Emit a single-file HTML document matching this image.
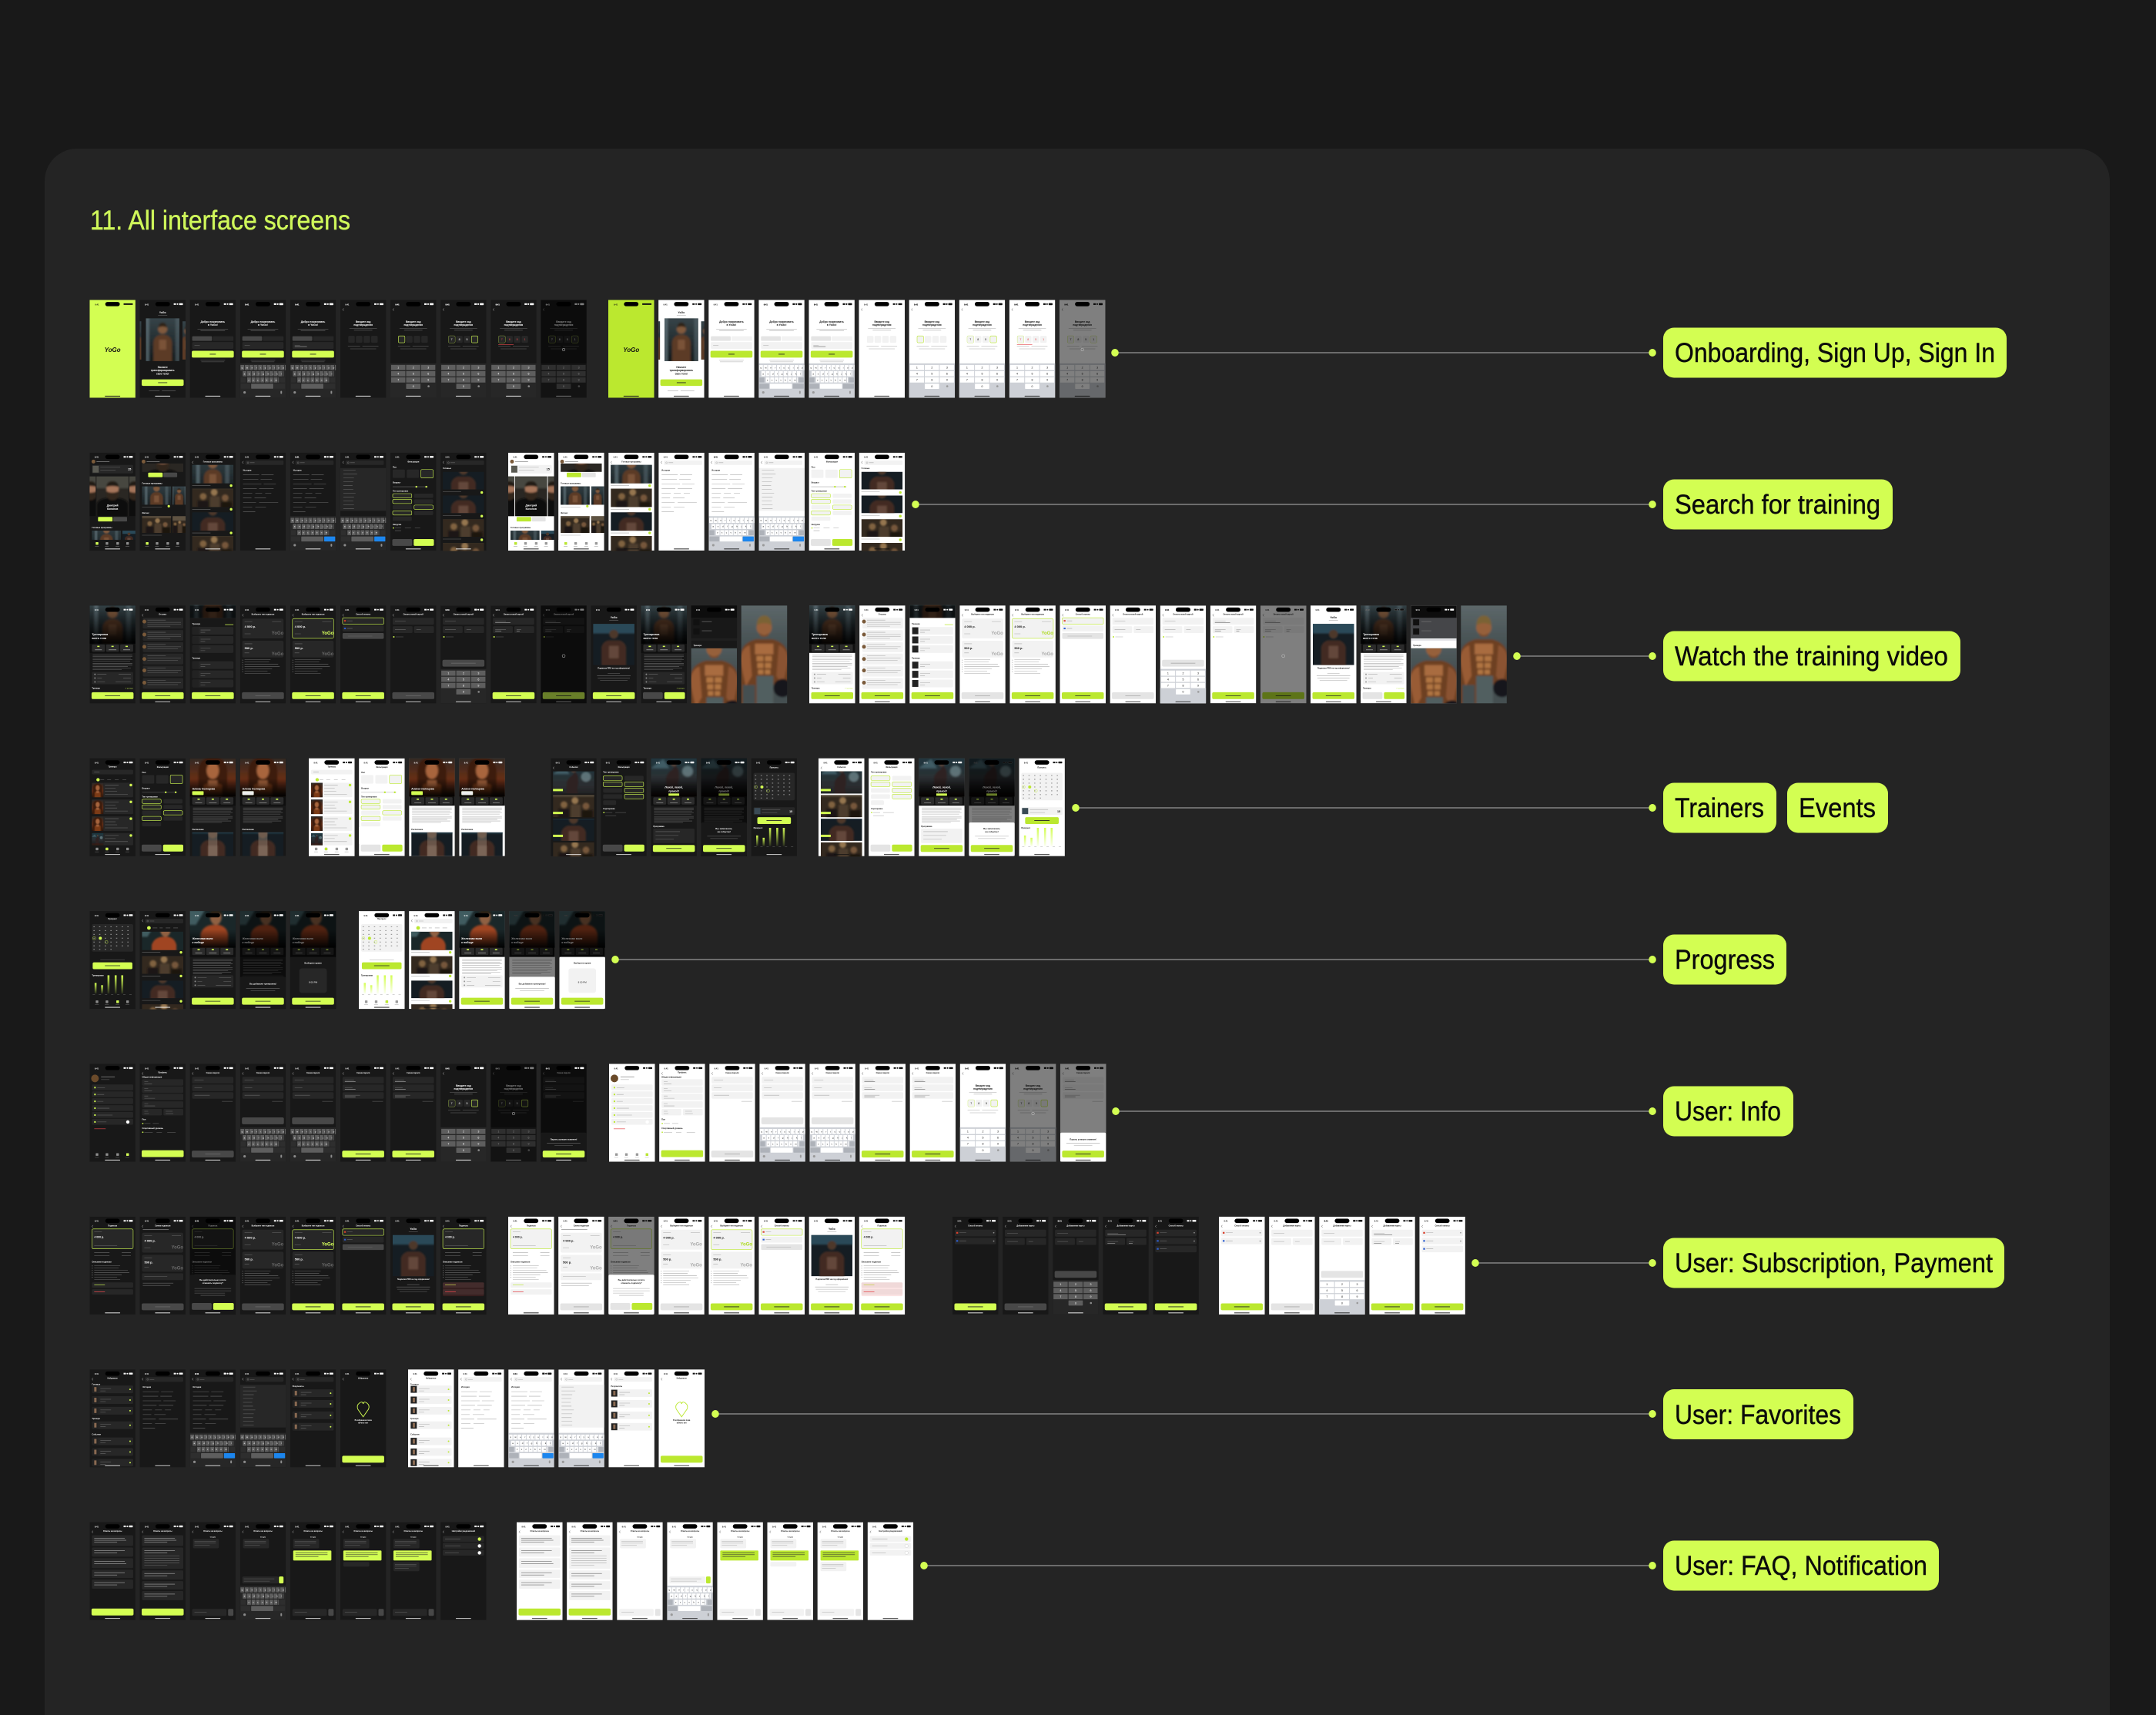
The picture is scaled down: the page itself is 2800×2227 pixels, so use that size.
<!DOCTYPE html>
<html lang="en"><head><meta charset="utf-8"><title>11. All interface screens</title>
<style>
html,body{margin:0;padding:0;background:#191919}
svg{display:block}
text{font-family:"Liberation Sans","Noto Sans CJK SC",sans-serif}
.d{--bg:#181818;--card:#272727;--fg:#fff;--mut:#8c8c8c;--ln:#6a6a6a;--acc:#d3fe52;--key:#5e5e5e;--kbg:#272727;--btn:#484848;--dk:#2e2e2e}
.l{--bg:#fff;--card:#f2f2f2;--fg:#111;--mut:#9a9a9a;--ln:#aaa;--acc:#bbe82f;--key:#fff;--kbg:#cdd0d6;--btn:#e4e4e4;--dk:#aeb2b9}
.b{fill:var(--bg)}.c{fill:var(--card)}.f{fill:var(--fg)}.m{fill:var(--mut)}.a{fill:var(--acc)}.kg{fill:var(--kbg)}.kf{fill:var(--key)}.g{fill:var(--btn)}.dk{fill:var(--dk)}
.bx{fill:var(--card);stroke:var(--acc);stroke-width:.6}
.p{fill:none;stroke:var(--ln);stroke-width:.55}
.pf{fill:none;stroke:var(--fg);stroke-width:.5;opacity:.75}
.ka{fill:none;stroke:var(--key);stroke-width:6.6;stroke-dasharray:4.9 .9}
.kn{fill:none;stroke:var(--key);stroke-width:6.8;stroke-dasharray:18.6 1}
.h{fill:var(--fg);font-size:3.4px;font-weight:700;text-anchor:middle}
.tt{fill:var(--fg);font-size:2.5px;font-weight:700;text-anchor:middle}
.s{fill:var(--fg);font-size:2.6px;font-weight:700}
.kt{fill:var(--fg);font-size:3px}
.dg{fill:var(--fg);font-size:3.6px;text-anchor:middle}
.w{fill:#fff;font-weight:700}
.lim{fill:#111;font-size:2.2px;font-weight:700;text-anchor:middle}
.dim{fill:#000;fill-opacity:.5}
</style></head><body>
<svg xmlns="http://www.w3.org/2000/svg" width="2800" height="2227" viewBox="0 0 2800 2227">
<defs>
<filter id="soft" x="-20%" y="-20%" width="140%" height="140%"><feGaussianBlur stdDeviation="1.3"/></filter>
<linearGradient id="gblue" x1="0" y1="0" x2="0" y2="1"><stop offset="0" stop-color="#3a484d"/><stop offset="1" stop-color="#0f1517"/></linearGradient>
<linearGradient id="gbig" x1="0" y1="0" x2="0" y2="1"><stop offset="0" stop-color="#5f6a6c"/><stop offset=".6" stop-color="#3b4547"/><stop offset="1" stop-color="#15191a"/></linearGradient>
<linearGradient id="gor" x1="0" y1="0" x2="0" y2="1"><stop offset="0" stop-color="#1d272b"/><stop offset=".55" stop-color="#6a2f14"/><stop offset="1" stop-color="#17100d"/></linearGradient>
<linearGradient id="gev" x1="0" y1="0" x2="0" y2="1"><stop offset="0" stop-color="#1b3a44"/><stop offset=".55" stop-color="#2c2e31"/><stop offset="1" stop-color="#141414"/></linearGradient>
<linearGradient id="gfade" x1="0" y1="0" x2="0" y2="1"><stop offset="0" stop-color="#000" stop-opacity="0"/><stop offset="1" stop-color="#000" stop-opacity=".95"/></linearGradient>
<linearGradient id="gbar" x1="0" y1="0" x2="0" y2="1"><stop offset="0" stop-color="#d3fe52"/><stop offset="1" stop-color="#d3fe52" stop-opacity=".08"/></linearGradient>

<symbol id="ph1" viewBox="0 0 60 60" preserveAspectRatio="xMidYMid slice"><rect width="60" height="60" fill="#1b2326"/><g filter="url(#soft)"><rect x="-6" y="-6" width="72" height="72" fill="url(#gblue)"/><rect x="6" y="-6" width="5" height="72" fill="#62757c" opacity=".7"/><rect x="48" y="-6" width="6" height="72" fill="#55656c" opacity=".6"/><path d="M17 66V34q1-9 10-11h6q9 2 10 11V66z" fill="#5b3b28"/><circle cx="30" cy="15" r="6.5" fill="#805a3c"/><path d="M24 13q1-7 6-7t6 7q-6-3-12 0z" fill="#2e2218"/><path d="M25 30h10v14H25z" fill="#7a5237"/></g></symbol>
<symbol id="ph2" viewBox="0 0 60 128" preserveAspectRatio="xMidYMid slice"><rect width="60" height="128" fill="#2a3133"/><g filter="url(#soft)"><rect x="-6" y="-6" width="72" height="140" fill="url(#gbig)"/><path d="M-2 134V66q3-18 22-22h20q19 4 22 22V134z" fill="#6d3f24"/><path d="M-2 70q4-16 13-18l3 40-8 14z" fill="#995c34"/><path d="M62 70q-4-16-13-18l-3 40 8 14z" fill="#8a5230"/><path d="M18 50h24v14H18z" fill="#a96c40"/><path d="M20 66h9v7h-9zM31 66h9v7h-9zM21 75h8v7h-8zM31 75h8v7h-8zM22 84h7v6h-7zM31 84h7v6h-7z" fill="#b07543"/><path d="M20 92h22v42H20z" fill="#515e60"/><path d="M2 104h16v30H2zM42 104h20v30H42z" fill="#454f51"/><circle cx="30" cy="29" r="10" fill="#96603a"/><path d="M20 26q1-13 10-13t10 13q-10-6-20 0z" fill="#7a6236"/><path d="M24 36q6 5 12 0v3q-6 4-12 0z" fill="#7a4c2c"/><circle cx="54" cy="108" r="12" fill="#16191a"/></g></symbol>
<symbol id="ph3" viewBox="0 0 60 60" preserveAspectRatio="xMidYMid slice"><rect width="60" height="60" fill="#151d23"/><g filter="url(#soft)"><rect x="-6" y="-6" width="72" height="20" fill="#2a4858"/><path d="M12 66V34q2-8 10-10h16q8 2 10 10V66z" fill="#432c21"/><path d="M23 32h14v18H23z" fill="#64463a"/><circle cx="30" cy="15" r="6.5" fill="#4d382b"/></g></symbol>
<symbol id="ph4" viewBox="0 0 60 60" preserveAspectRatio="xMidYMid slice"><rect width="60" height="60" fill="#1e1a18"/><g filter="url(#soft)"><rect x="-6" y="-6" width="72" height="72" fill="url(#gor)"/><path d="M11 66V22q1-19 19-19t19 19V66z" fill="#3e1f10"/><ellipse cx="30" cy="21" rx="8" ry="11" fill="#a8653d"/><path d="M18 66V40q12-6 24 0V66z" fill="#7c3a17"/><path d="M24 34h12v8H24z" fill="#a8653d"/></g></symbol>
<symbol id="ph5" viewBox="0 0 60 60" preserveAspectRatio="xMidYMid slice"><rect width="60" height="60" fill="#2a2723"/><g filter="url(#soft)"><rect x="-6" y="-6" width="72" height="24" fill="#47473f"/><path d="M6 66V42q2-7 13-9h22q11 2 13 9V66z" fill="#0e0e0e"/><ellipse cx="30" cy="20" rx="9.5" ry="13" fill="#a5755a"/><path d="M20.5 22q0 14 9.5 14t9.5-14q-9.5 5-19 0z" fill="#33251b"/><path d="M20.5 16q1-9 9.5-9t9.5 9q-9.5-3-19 0z" fill="#241a14"/></g></symbol>
<symbol id="ph6" viewBox="0 0 60 60" preserveAspectRatio="xMidYMid slice"><rect width="60" height="60" fill="#161a1c"/><g filter="url(#soft)"><rect x="-6" y="-6" width="72" height="72" fill="url(#gev)"/><circle cx="48" cy="22" r="7" fill="#8ba7ad" opacity=".55"/><path d="M0 18L16 6l8 12z" fill="#3f5c65"/><path d="M20 66V30q3-8 8-10l4-6 4 6q2 10-1 18l5 28z" fill="#2e2220"/><path d="M0 50h60v16H0z" fill="#3a1c16" opacity=".6"/><circle cx="30" cy="12" r="3.5" fill="#5a4438"/></g></symbol>
<symbol id="ph7" viewBox="0 0 60 60" preserveAspectRatio="xMidYMid slice"><rect width="60" height="60" fill="#1a2729"/><g filter="url(#soft)"><path d="M-6-6h32L8 24H-6z" fill="#415c60"/><path d="M14 66V36q3-10 14-12h10q10 2 12 12V66z" fill="#a04520"/><ellipse cx="34" cy="14" rx="7.5" ry="10" fill="#8f6043"/><path d="M26 11q1-8 8-8t8 8q-8-2-16 0z" fill="#2c2016"/></g></symbol>
<symbol id="ph8" viewBox="0 0 60 60" preserveAspectRatio="xMidYMid slice"><rect width="60" height="60" fill="#33291f"/><g filter="url(#soft)"><rect x="-6" y="-6" width="72" height="22" fill="#5e5343"/><circle cx="16" cy="28" r="5" fill="#80623f"/><circle cx="32" cy="22" r="5" fill="#957650"/><circle cx="48" cy="30" r="5" fill="#76563a"/><rect x="8" y="34" width="16" height="32" fill="#1f1812"/><rect x="26" y="28" width="14" height="38" fill="#4e3d2e"/><rect x="42" y="36" width="16" height="30" fill="#1a1410"/></g></symbol>

<g id="st"><text class="s" x="6.5" y="6.8">9:41</text><rect x="20.5" y="2.6" width="19" height="5.6" rx="2.8" fill="#000"/><rect class="f" x="44.5" y="4.4" width="3" height="2"/><circle class="f" cx="49.4" cy="5.4" r="1"/><rect class="f" x="51.5" y="4.2" width="5" height="2.4" rx=".6"/><rect class="f" x="20" y="125.4" width="20" height="1.1" rx=".5" opacity=".8"/></g>
<g id="stw"><text class="w" font-size="2.6" x="6.5" y="6.8">9:41</text><rect x="20.5" y="2.6" width="19" height="5.6" rx="2.8" fill="#000"/><rect fill="#fff" x="44.5" y="4.4" width="3" height="2"/><circle fill="#fff" cx="49.4" cy="5.4" r="1"/><rect fill="#fff" x="51.5" y="4.2" width="5" height="2.4" rx=".6"/></g>
<g id="bk"><path class="pf" d="M4.5 11l-1.4 1.6 1.4 1.6"/></g>
<g id="kb"><rect class="kg" y="83" width="60" height="45"/><path class="ka" d="M.6 88.5H60"/><path class="ka" d="M3.6 96.6H57"/><path class="ka" d="M9.4 104.7H51"/><rect class="dk" x="1" y="101.4" width="6.4" height="6.6" rx=".7"/><rect class="dk" x="52.6" y="101.4" width="6.4" height="6.6" rx=".7"/><rect class="dk" x="1" y="109.6" width="12.6" height="6.6" rx=".7"/><rect class="kf" x="14.6" y="109.6" width="29" height="6.6" rx=".7"/><rect class="dk" x="44.6" y="109.6" width="14.4" height="6.6" rx=".7"/><text class="kt" x="2" y="89.5" textLength="56">qwertyuiop</text><text class="kt" x="5" y="97.6" textLength="50">asdfghjkl</text><text class="kt" x="10.8" y="105.7" textLength="38">zxcvbnm</text><circle class="m" cx="6" cy="121" r="1.6"/><rect class="m" x="53" y="119" width="2" height="4" rx="1"/></g>
<g id="kbs"><use href="#kb"/><rect x="44.6" y="109.6" width="14.4" height="6.6" rx=".7" fill="#1c86ee"/></g>
<g id="np"><rect class="kg" y="83" width="60" height="45"/><path class="kn" d="M1 88.5H59"/><path class="kn" d="M1 96.6H59"/><path class="kn" d="M1 104.7H59"/><rect class="kf" x="20.6" y="109.6" width="18.8" height="6.8" rx=".7"/><text class="dg" x="10.3" y="89.8">1</text><text class="dg" x="30" y="89.8">2</text><text class="dg" x="49.7" y="89.8">3</text><text class="dg" x="10.3" y="97.9">4</text><text class="dg" x="30" y="97.9">5</text><text class="dg" x="49.7" y="97.9">6</text><text class="dg" x="10.3" y="106">7</text><text class="dg" x="30" y="106">8</text><text class="dg" x="49.7" y="106">9</text><text class="dg" x="30" y="114.3">0</text><circle class="m" cx="50" cy="113" r="1.3"/></g>
<g id="tab"><rect class="b" y="114" width="60" height="14"/><rect class="m" x="8" y="117" width="3.4" height="3.4" rx=".6"/><rect class="m" x="21" y="117" width="3.4" height="3.4" rx=".6"/><rect class="m" x="35" y="117" width="3.4" height="3.4" rx=".6"/><rect class="m" x="48" y="117" width="3.4" height="3.4" rx=".6"/><path class="p" d="M7 122.4h5M20 122.4h5M34 122.4h5M47 122.4h5"/></g>
<g id="btn"><rect class="a" x="2.5" y="113.5" width="55" height="9" rx="2"/><path d="M20 118h20" stroke="#222" stroke-width=".8"/></g>
<g id="btnd"><rect class="g" x="2.5" y="113.5" width="55" height="9" rx="2"/><path d="M20 118h20" stroke="var(--ln)" stroke-width=".8"/></g>
<g id="srch"><use href="#bk"/><rect class="c" x="7" y="10" width="50" height="6" rx="1.5"/><circle cx="10.4" cy="13" r="1" fill="none" stroke="var(--mut)" stroke-width=".4"/><path class="p" d="M13 13h6"/></g>
<g id="chips"><text class="s" x="4" y="24">История</text><path class="p" d="M4 29h21M28 29h16M4 35h20M27 35h15M4 41h24M31 41h16M4 47h18M25 47h19M4 53h12M20 53h9M33 53h8M4 59h11M19 59h15M4 65h17M25 65h25M4 71h12M20 71h14M4 77h16"/></g>
<g id="tiles"><rect fill="#2b2b2b" x="3" y="51" width="17" height="9.5" rx="1.2"/><rect fill="#2b2b2b" x="21.5" y="51" width="17" height="9.5" rx="1.2"/><rect fill="#2b2b2b" x="40" y="51" width="17" height="9.5" rx="1.2"/><path d="M10 53.5h3M28.5 53.5h3M47 53.5h3" stroke="#d3fe52" stroke-width="1.6"/><path d="M7 58h9M25 58h10M44 58h9" stroke="#bbb" stroke-width=".6"/></g>
<g id="para"><path class="p" d="M4 65h52M4 67h52M4 69h50M4 71h52M4 73h49M4 76h52M4 78h52M4 80h46M4 82h50M4 84h38"/></g>
<g id="rows"><rect class="c" x="3" y="87" width="54" height="16" rx="1.6"/><circle class="m" cx="7" cy="90" r="1"/><circle class="m" cx="7" cy="95" r="1"/><circle class="m" cx="7" cy="100" r="1"/><path class="p" d="M10 90h12M38 90h16M10 95h6M44 95h10M10 100h10M34 100h20"/></g>
<g id="cardd"><rect class="c" x="3" y="17" width="54" height="26" rx="2"/><rect class="c" x="3" y="46" width="54" height="22" rx="2"/><path class="p" d="M6 21h10M42 21h12M6 37h8M6 50h10M6 62h6"/><text class="s" font-size="4" x="6" y="29" style="font-size:4px">4 000 р.</text><text class="s" x="6" y="57" style="font-size:4px">500 р.</text><text x="57" y="38" text-anchor="end" font-size="6" font-weight="700" fill="var(--ln)">YoGo</text><text x="57" y="65" text-anchor="end" font-size="6" font-weight="700" fill="var(--ln)">YoGo</text></g>
<g id="bul"><path class="p" d="M6 71h34M6 74h32M6 77h44M6 80h46M6 83h36M6 86h30M6 89h34"/><path d="M3.5 71v18" stroke="var(--mut)" stroke-width=".9" stroke-dasharray=".9 2.1"/></g>
<g id="cal"><text class="tt" x="30" y="13">Прогресс</text><rect class="c" x="3" y="19" width="54" height="36" rx="2"/><path d="M5 22.5h50M5 27.5h50M5 32.5h50M5 37.5h50M5 42.5h50M5 47.5h50M5 52h24" fill="none" stroke="var(--mut)" stroke-width="1.2" stroke-dasharray="1.6 5.8"/><circle class="a" cx="14" cy="37.5" r="2"/><circle cx="6" cy="37.5" r="2" fill="none" stroke="var(--acc)" stroke-width=".4"/><circle cx="22" cy="42.5" r="2" fill="none" stroke="var(--acc)" stroke-width=".4"/></g>
<g id="bars"><rect fill="url(#gbar)" x="6.5" y="92" width="2.6" height="14"/><rect fill="url(#gbar)" x="15" y="95" width="2.6" height="11"/><rect fill="url(#gbar)" x="23.4" y="82" width="2.6" height="24"/><rect fill="url(#gbar)" x="32.8" y="82" width="2.6" height="24"/><rect fill="url(#gbar)" x="41.4" y="82" width="2.6" height="24"/><path class="p" d="M4 107h52" stroke-dasharray="3 5"/></g>
<g id="fieldh"><text class="tt" x="30" y="12.5">Смена пароля</text><use href="#bk"/></g>
<g id="pwf"><rect class="c" x="3" y="17" width="54" height="8.6" rx="1.6"/><rect class="c" x="3" y="27" width="54" height="8.6" rx="1.6"/><rect class="c" x="3" y="37" width="54" height="8.6" rx="1.6"/><path class="p" d="M6 21h12M6 31h10M6 41h20M42 49h14"/></g>
<g id="faqh"><text class="tt" x="30" y="12.5">Ответы на вопросы</text><use href="#bk"/></g>
<g id="cbub"><text class="tt" x="30" y="20" style="font-size:1.8px">Сегодня</text><rect class="c" x="4" y="22" width="34" height="12" rx="1.4"/><path class="p" d="M6 25h28M6 27.4h28M6 29.8h20"/></g>
<g id="cin"><rect class="c" x="3" y="113.5" width="45" height="9" rx="1.6"/><rect class="g" x="50" y="113.5" width="7" height="9" rx="1.6"/><path class="p" d="M6 118h16"/></g>
<g id="lbub"><rect class="a" x="4" y="37" width="50" height="13" rx="1"/><path d="M7 40h42M7 42.4h42M7 44.8h30" stroke="#333" stroke-width=".6"/></g>
<g id="fav1"><rect class="c" x="3" y="14" width="54" height="10" rx="1.4"/><rect x="3.4" y="14.5" width="8" height="9" fill="#222"/><rect x="6" y="16" width="3" height="6" fill="#8a6a52"/><path class="p" d="M14 18h14M14 21h7"/><circle class="a" cx="53" cy="19" r="1"/></g>
</defs>

<!-- ROW 1 SCREENS -->
<symbol id="splash" viewBox="0 0 60 128"><rect class="a" width="60" height="128"/><text x="7" y="7" font-size="2.6" font-weight="700" fill="#111">9:41</text><rect x="20.5" y="2.6" width="19" height="5.6" rx="2.8" fill="#000"/><rect x="44.5" y="4.4" width="12" height="2" fill="#111"/><text x="30" y="68" text-anchor="middle" font-size="8" font-weight="700" font-style="italic" fill="#111">YoGo</text><rect x="20" y="125.4" width="20" height="1.1" fill="#222"/></symbol>
<symbol id="start" viewBox="0 0 60 128"><rect class="b" width="60" height="128"/><text class="h" x="30" y="17.5">YoGo</text><path class="p" d="M24 20h12"/><use href="#ph1" x="-14" y="28" width="16" height="50"/><use href="#ph1" x="8" y="24" width="44" height="56"/><use href="#ph1" x="56" y="28" width="16" height="50"/><text class="h" x="30" y="89" style="font-size:3.2px">Начните</text><text class="h" x="30" y="93.4" style="font-size:3.2px">трансформировать</text><text class="h" x="30" y="97.8" style="font-size:3.2px">свое тело!</text><rect class="a" x="2.5" y="104" width="55" height="8.5" rx="1.8"/><path d="M24 108.3h12" stroke="#222" stroke-width=".8"/><path class="p" d="M12 119h14M29 119h18"/><use href="#st"/></symbol>
<symbol id="w0" viewBox="0 0 60 128"><rect class="b" width="60" height="128"/><text class="h" x="30" y="29.5">Добро пожаловать</text><text class="h" x="30" y="34">в YoGo!</text><path class="p" d="M10 38h40M14 40h32"/><rect class="g" x="3" y="47.5" width="26" height="6" rx="1"/><rect class="c" x="30" y="47.5" width="27" height="6" rx="1"/><rect class="c" x="3" y="55" width="54" height="9" rx="1.5"/><path class="p" d="M6 59.5h7"/><rect class="a" x="2.5" y="66.5" width="55" height="9" rx="1.8"/><path d="M26 71h8" stroke="#222" stroke-width=".8"/><path class="p" d="M14 79h32M15 81h30"/><use href="#st"/></symbol>
<symbol id="w1" viewBox="0 0 60 128"><use href="#w0" width="60" height="128"/><use href="#kb"/><use href="#st"/></symbol>
<symbol id="w2" viewBox="0 0 60 128"><use href="#w1" width="60" height="128"/><path class="pf" d="M6 61h16"/></symbol>
<symbol id="c0" viewBox="0 0 60 128"><rect class="b" width="60" height="128"/><use href="#bk"/><text class="h" x="30" y="29.5" style="font-size:3.2px">Введите код</text><text class="h" x="30" y="34" style="font-size:3.2px">подтверждения</text><path class="p" d="M12 37.5h36M18 39.6h24"/><g class="c"><rect x="10.5" y="47" width="8.5" height="9" rx="1.6"/><rect x="20.5" y="47" width="8.5" height="9" rx="1.6"/><rect x="30.5" y="47" width="8.5" height="9" rx="1.6"/><rect x="40.5" y="47" width="8.5" height="9" rx="1.6"/></g><path class="p" d="M10 60.5h16M29 60.5h21M13 64h34"/><use href="#st"/></symbol>
<symbol id="c1" viewBox="0 0 60 128"><use href="#c0" width="60" height="128"/><rect class="bx" x="10.5" y="47" width="8.5" height="9" rx="1.6"/><use href="#np"/><use href="#st"/></symbol>
<symbol id="c2" viewBox="0 0 60 128"><use href="#c1" width="60" height="128"/><rect class="c" x="10.5" y="47" width="8.5" height="9" rx="1.6"/><rect class="bx" x="40.5" y="47" width="8.5" height="9" rx="1.6"/><text class="dg" x="14.7" y="53">7</text><text class="dg" x="24.7" y="53">8</text><text class="dg" x="34.7" y="53">5</text></symbol>
<symbol id="c3" viewBox="0 0 60 128"><use href="#c1" width="60" height="128"/><rect class="c" x="10.5" y="47" width="8.5" height="9" rx="1.6"/><g fill="#e5484d" font-size="3.6" text-anchor="middle"><text x="14.7" y="53">7</text><text x="24.7" y="53">8</text><text x="34.7" y="53">5</text><text x="44.7" y="53">1</text></g><path d="M10 58.5h20" stroke="#e5484d" stroke-width=".6"/></symbol>
<symbol id="c4" viewBox="0 0 60 128"><use href="#c2" width="60" height="128"/><rect class="c" x="40.5" y="47" width="8.5" height="9" rx="1.6"/><text class="dg" x="44.7" y="53">1</text><rect class="dim" width="60" height="128"/><circle cx="30" cy="65" r="1.8" fill="none" stroke="#ccc" stroke-width=".5"/></symbol>

<!-- ROW 2 -->
<symbol id="home" viewBox="0 0 60 128"><rect class="b" width="60" height="128"/><circle cx="5" cy="11.5" r="2.5" fill="#7a5a3a"/><path class="pf" d="M9 11.5h17"/><rect class="c" x="3" y="16" width="54" height="11" rx="1.6"/><rect x="4" y="17" width="8" height="9" fill="#5a5a52"/><path class="p" d="M14 19h26M14 23h20"/><text class="s" x="50" y="23" style="font-size:4px">15</text><use href="#ph5" x="-6" y="31" width="14" height="52"/><use href="#ph5" x="9" y="31" width="42" height="52"/><use href="#ph5" x="52" y="31" width="14" height="52"/><text class="w" font-size="3.4" text-anchor="middle" x="30" y="70">Дмитрий</text><text class="w" font-size="3.4" text-anchor="middle" x="30" y="74.5">Кононов</text><rect class="a" x="11" y="84" width="19" height="6" rx="1"/><rect class="g" x="31" y="84" width="18" height="6" rx="1"/><text class="s" x="3" y="99">Готовые программы</text><use href="#ph1" x="3" y="102" width="38" height="18"/><use href="#ph3" x="43" y="102" width="17" height="18"/><use href="#tab"/><rect class="a" x="8" y="117" width="3.4" height="3.4" rx=".6"/><use href="#st"/></symbol>
<symbol id="home2" viewBox="0 0 60 128"><rect class="b" width="60" height="128"/><use href="#ph5" x="3" y="14" width="54" height="11"/><rect x="0" y="0" width="60" height="10" class="b"/><circle cx="5" cy="11.5" r="2.5" fill="#7a5a3a"/><path class="pf" d="M9 11.5h17"/><rect class="a" x="11" y="26" width="19" height="6" rx="1"/><rect class="g" x="31" y="26" width="18" height="6" rx="1"/><text class="s" x="3" y="41">Готовые программы</text><use href="#ph1" x="3" y="44" width="38" height="24"/><use href="#ph1" x="43" y="44" width="17" height="24"/><path class="p" d="M3 71h26"/><circle class="a" cx="38" cy="70" r="1.6"/><text class="s" x="3" y="79.5">Фитнес</text><use href="#ph8" x="3" y="83" width="38" height="22"/><use href="#ph8" x="43" y="83" width="17" height="22"/><path class="p" d="M3 108h26"/><use href="#tab"/><rect class="a" x="8" y="117" width="3.4" height="3.4" rx=".6"/><use href="#st"/></symbol>
<symbol id="prog" viewBox="0 0 60 128"><rect class="b" width="60" height="128"/><use href="#bk"/><text class="tt" x="30" y="12.5">Готовые программы</text><use href="#ph1" x="3" y="16" width="54" height="24"/><path class="p" d="M3 43h24"/><circle class="a" cx="54" cy="43" r="1.7"/><use href="#ph8" x="3" y="47" width="54" height="24"/><path class="p" d="M3 74h24"/><circle class="a" cx="54" cy="74" r="1.7"/><use href="#ph3" x="3" y="78" width="54" height="24"/><path class="p" d="M3 105h24"/><circle class="a" cx="54" cy="105" r="1.7"/><use href="#ph8" x="3" y="109" width="54" height="24"/><use href="#st"/></symbol>
<symbol id="s0" viewBox="0 0 60 128"><rect class="b" width="60" height="128"/><use href="#srch"/><use href="#chips"/><use href="#st"/></symbol>
<symbol id="s1" viewBox="0 0 60 128"><use href="#s0" width="60" height="128"/><use href="#kbs"/><use href="#st"/></symbol>
<symbol id="s2" viewBox="0 0 60 128"><rect class="b" width="60" height="128"/><use href="#srch"/><rect class="c" y="20" width="60" height="56"/><path class="p" d="M4 23h16M4 28h18M4 33h14M4 38h13M4 43h12M4 48h13M4 53h16M4 58h14M4 63h13M4 68h14M4 73h14"/><use href="#kbs"/><use href="#st"/></symbol>
<symbol id="filt" viewBox="0 0 60 128"><rect class="b" width="60" height="128"/><text class="tt" x="30" y="12.5">Фильтрация</text><text class="s" x="3" y="19.5">Пол</text><g class="c"><rect x="3" y="22" width="16" height="11" rx="1.4"/><rect x="21.5" y="22" width="16" height="11" rx="1.4"/></g><rect class="bx" x="40" y="22" width="16" height="11" rx="1.4"/><text class="s" x="3" y="40">Возраст</text><path class="p" d="M3 44.5h46"/><circle class="a" cx="34" cy="44.5" r="1.2"/><circle class="a" cx="47" cy="44.5" r="1.2"/><text class="s" x="3" y="51">Тип тренировки</text><rect class="bx" x="3" y="53.5" width="25" height="5.6" rx="1.6"/><rect class="c" x="31" y="53.5" width="25" height="5.6" rx="1.6"/><rect class="bx" x="3" y="61" width="25" height="5.6" rx="1.6"/><rect class="c" x="31" y="61" width="25" height="5.6" rx="1.6"/><rect class="c" x="3" y="68.5" width="25" height="5.6" rx="1.6"/><rect class="bx" x="31" y="68.5" width="25" height="5.6" rx="1.6"/><rect class="bx" x="3" y="76" width="25" height="5.6" rx="1.6"/><rect class="c" x="31" y="76" width="25" height="5.6" rx="1.6"/><rect class="c" x="3" y="83.5" width="25" height="5.6" rx="1.6"/><text class="s" x="3" y="95">Нагрузка</text><circle class="a" cx="4" cy="98.5" r=".9"/><path class="p" d="M6 98.5h8M19 98.5h8M32 98.5h7M6 102h8"/><rect class="g" x="2.5" y="113" width="26" height="9" rx="1.8"/><rect class="a" x="30.5" y="113" width="26.5" height="9" rx="1.8"/><use href="#st"/></symbol>
<symbol id="res" viewBox="0 0 60 128"><rect class="b" width="60" height="128"/><use href="#srch"/><text class="s" x="3" y="21.5">Готовые</text><use href="#ph3" x="3" y="25" width="54" height="23"/><path class="p" d="M3 51h24"/><circle class="a" cx="54" cy="52" r="1.7"/><use href="#ph3" x="3" y="56" width="54" height="23"/><path class="p" d="M3 82h24"/><circle class="a" cx="54" cy="83" r="1.7"/><use href="#ph8" x="3" y="87" width="54" height="23"/><path class="p" d="M3 113h24"/><circle class="a" cx="54" cy="114" r="1.7"/><use href="#ph8" x="3" y="118" width="54" height="23"/><use href="#st"/></symbol>

<!-- ROW 3 -->
<symbol id="train" viewBox="0 0 60 128"><rect class="b" width="60" height="128"/><rect width="60" height="62" fill="#0f0f0f"/><use href="#ph1" x="0" y="0" width="60" height="50"/><rect width="60" height="50" fill="url(#gfade)"/><text class="w" font-size="3.6" x="3" y="39">Тренировка</text><text class="w" font-size="3.6" x="3" y="44">всего тела</text><use href="#tiles"/><use href="#stw"/><use href="#para"/><use href="#rows"/><text class="s" x="3" y="109">Тренера</text><text x="57" y="109" text-anchor="end" font-size="2.2" fill="var(--acc)">У тренера</text><use href="#btn"/></symbol>
<symbol id="rev" viewBox="0 0 60 128"><rect class="b" width="60" height="128"/><use href="#bk"/><text class="tt" x="30" y="12.5">Отзывы</text><g class="c"><rect x="4" y="16" width="53" height="14" rx="1.4"/><rect x="4" y="32" width="53" height="14" rx="1.4"/><rect x="4" y="48" width="53" height="13" rx="1.4"/><rect x="4" y="63" width="53" height="14" rx="1.4"/><rect x="4" y="79" width="53" height="14" rx="1.4"/><rect x="4" y="95" width="53" height="14" rx="1.4"/></g><g fill="#7a5a3a"><circle cx="6" cy="21" r="2.5"/><circle cx="6" cy="38" r="2.5"/><circle cx="6" cy="54" r="2.5"/><circle cx="6" cy="70" r="2.5"/><circle cx="6" cy="85" r="2.5"/><circle cx="6" cy="101" r="2.5"/></g><path class="p" d="M10 19h24M10 22h44M10 24.5h44M10 27h30M10 35h24M10 38h44M10 40.5h44M10 43h30M10 51h24M10 54h44M10 56.5h40M10 66h24M10 69h44M10 71.5h40M10 82h24M10 85h44M10 87.5h40M10 98h24M10 101h44M10 103.5h40"/><use href="#btn"/><use href="#st"/></symbol>
<symbol id="train2" viewBox="0 0 60 128"><rect class="b" width="60" height="128"/><use href="#ph1" x="0" y="-12" width="60" height="28"/><rect width="60" height="16" fill="#000" fill-opacity=".6"/><use href="#stw"/><text class="s" x="3" y="25">Тренера</text><path d="M46 25h11" stroke="var(--acc)" stroke-width=".7"/><g class="c"><rect x="3" y="28" width="54" height="10" rx="1.4"/><rect x="3" y="40" width="54" height="10" rx="1.4"/><rect x="3" y="52" width="54" height="10" rx="1.4"/><rect x="3" y="73" width="54" height="10" rx="1.4"/><rect x="3" y="85" width="54" height="10" rx="1.4"/><rect x="3" y="97" width="54" height="10" rx="1.4"/></g><g fill="#222"><rect x="3.5" y="28.5" width="8" height="9"/><rect x="3.5" y="40.5" width="8" height="9"/><rect x="3.5" y="52.5" width="8" height="9"/><rect x="3.5" y="73.5" width="8" height="9"/><rect x="3.5" y="85.5" width="8" height="9"/><rect x="3.5" y="97.5" width="8" height="9"/></g><path class="p" d="M14 32h13M14 35h6M14 44h13M14 47h6M14 56h13M14 59h6M14 77h13M14 80h6M14 89h13M14 92h6M14 101h13M14 104h6"/><text class="s" x="3" y="70">Тренера</text><use href="#btn"/></symbol>
<symbol id="sub0" viewBox="0 0 60 128"><rect class="b" width="60" height="128"/><use href="#bk"/><text class="tt" x="30" y="12.5">Выберите тип подписки</text><use href="#cardd"/><use href="#bul"/><use href="#btnd"/><use href="#st"/></symbol>
<symbol id="sub1" viewBox="0 0 60 128"><rect class="b" width="60" height="128"/><use href="#bk"/><text class="tt" x="30" y="12.5">Выберите тип подписки</text><use href="#cardd"/><rect x="3" y="17" width="54" height="26" rx="2" fill="none" stroke="var(--acc)" stroke-width=".6"/><text x="57" y="38" text-anchor="end" font-size="6" font-weight="700" fill="var(--acc)">YoGo</text><use href="#bul"/><use href="#btn"/><use href="#st"/></symbol>
<symbol id="pay" viewBox="0 0 60 128"><rect class="b" width="60" height="128"/><use href="#bk"/><text class="tt" x="30" y="12.5">Способ оплаты</text><rect class="bx" x="3" y="16" width="54" height="8.4" rx="1.4"/><rect class="c" x="3" y="26" width="54" height="8" rx="1.4"/><rect class="g" x="3" y="36" width="54" height="7.6" rx="1.4"/><rect x="5" y="19" width="2.4" height="2" fill="#d9402c"/><rect x="5" y="29" width="2.4" height="2" fill="#2f5fd0"/><path class="p" d="M9 20h7M9 30h7M10 40h32"/><use href="#btn"/><use href="#st"/></symbol>
<symbol id="new0" viewBox="0 0 60 128"><rect class="b" width="60" height="128"/><use href="#bk"/><text class="tt" x="30" y="12.5">Оплата новой картой</text><rect class="c" x="3" y="16" width="54" height="9" rx="1.4"/><rect class="c" x="3" y="27" width="26" height="9" rx="1.4"/><rect class="c" x="31" y="27" width="26" height="9" rx="1.4"/><circle class="a" cx="4.5" cy="41" r="1"/><path class="p" d="M6 20.5h14M6 31.5h14M34 31.5h6M7 41h10"/><use href="#btnd"/><use href="#st"/></symbol>
<symbol id="newn" viewBox="0 0 60 128"><use href="#new0" width="60" height="128"/><rect class="b" y="108" width="60" height="20"/><rect class="g" x="2.5" y="71" width="55" height="9" rx="2"/><path d="M14 75.5h32" stroke="var(--ln)" stroke-width=".8"/><use href="#np"/><use href="#st"/></symbol>
<symbol id="newf" viewBox="0 0 60 128"><use href="#new0" width="60" height="128"/><path class="pf" d="M6 22.5h20M6 33.5h8M34 33.5h4"/><use href="#btn"/></symbol>
<symbol id="newd" viewBox="0 0 60 128"><use href="#newf" width="60" height="128"/><rect class="dim" width="60" height="128"/><circle cx="30" cy="66" r="2" fill="none" stroke="#ccc" stroke-width=".5"/></symbol>
<symbol id="succ" viewBox="0 0 60 128"><rect class="b" width="60" height="128"/><text class="h" x="30" y="17">YoGo</text><path class="p" d="M24 19.5h12"/><use href="#ph3" x="3" y="24" width="54" height="54"/><text class="tt" x="30" y="83">Подписка PRO на год оформлена!</text><path class="p" d="M22 89h16M8 92h44M9 95h42M12 98h36"/><use href="#btn"/><use href="#st"/></symbol>
<symbol id="train3" viewBox="0 0 60 128"><use href="#train" width="60" height="128"/><rect class="b" y="112" width="60" height="12"/><rect class="g" x="2.5" y="113.5" width="26" height="9" rx="1.8"/><rect class="a" x="30.5" y="113.5" width="27" height="9" rx="1.8"/><use href="#st"/></symbol>
<symbol id="vid1" viewBox="0 0 60 128"><rect class="b" width="60" height="128"/><rect width="60" height="43" fill="#0d0d0d"/><rect class="dk" y="16" width="60" height="30" opacity=".35"/><rect x="3" y="18" width="8" height="8" fill="#111"/><rect x="3" y="30" width="8" height="8" fill="#111"/><path d="M14 21h13M14 33h13" stroke="#777" stroke-width=".6"/><use href="#stw"/><text class="s" x="3" y="53">Тренера</text><use href="#ph2" x="0" y="56" width="60" height="72"/></symbol>
<symbol id="vid2" viewBox="0 0 60 128"><use href="#ph2" x="0" y="0" width="60" height="128"/></symbol>

<!-- ROW 4 -->
<symbol id="tr" viewBox="0 0 60 128"><rect class="b" width="60" height="128"/><text class="tt" x="30" y="12">Тренеры</text><rect class="c" x="3" y="15" width="54" height="6" rx="1.4"/><path class="p" d="M6 18h7M14 28h5M23 28h5M33 28h5M43 28h5"/><circle class="a" cx="11" cy="28" r="2.2"/><g class="c"><rect x="3" y="32" width="54" height="19" rx="1.4"/><rect x="3" y="54" width="54" height="19" rx="1.4"/><rect x="3" y="76" width="54" height="19" rx="1.4"/><rect x="3" y="98" width="54" height="16" rx="1.4"/></g><use href="#ph4" x="3" y="32" width="15" height="19"/><use href="#ph4" x="3" y="54" width="15" height="19"/><use href="#ph4" x="3" y="76" width="15" height="19"/><use href="#ph6" x="3" y="98" width="15" height="16"/><path class="p" d="M20 35h18M20 39h14M20 43h16M20 47h30M20 57h18M20 61h14M20 65h16M20 69h30M20 79h18M20 83h14M20 87h16M20 91h30M20 101h18M20 105h14M20 109h30"/><g class="a"><circle cx="54" cy="35" r="1.7"/><circle cx="54" cy="57" r="1.7"/><circle cx="54" cy="79" r="1.7"/><circle cx="54" cy="101" r="1.7"/></g><use href="#tab"/><rect class="a" x="21" y="117" width="3.4" height="3.4" rx=".6"/><use href="#st"/></symbol>
<symbol id="fi2" viewBox="0 0 60 128"><use href="#filt" width="60" height="128"/><rect class="b" y="90" width="60" height="22"/></symbol>
<symbol id="wom" viewBox="0 0 60 128"><rect class="b" width="60" height="128"/><rect width="60" height="62" fill="#0f0f0f"/><use href="#ph4" x="0" y="0" width="60" height="50"/><rect y="26" width="60" height="24" fill="url(#gfade)"/><text class="w" font-size="3.6" x="3" y="41">Алина Солнцева</text><rect x="3" y="43" width="15" height="5" rx=".8" fill="#d3fe52"/><use href="#tiles"/><use href="#stw"/><use href="#para"/><text class="s" x="3" y="94">Расписание</text><use href="#ph3" x="3" y="97" width="54" height="31"/><rect x="24" y="97" width="12" height="31" fill="#99897a" opacity=".45"/></symbol>
<symbol id="wom2" viewBox="0 0 60 128"><use href="#wom" width="60" height="128"/><rect x="3" y="43" width="15" height="5" rx=".8" fill="#eee"/></symbol>
<symbol id="ev" viewBox="0 0 60 128"><rect class="b" width="60" height="128"/><use href="#bk"/><text class="tt" x="30" y="12.5">События</text><use href="#ph6" x="3" y="17" width="54" height="29"/><rect x="3" y="40" width="13" height="3" fill="#d3fe52"/><use href="#ph8" x="3" y="48" width="54" height="29"/><rect x="3" y="70" width="13" height="3" fill="#d3fe52"/><use href="#ph3" x="3" y="79" width="54" height="29"/><rect x="3" y="100" width="13" height="3" fill="#d3fe52"/><use href="#ph8" x="3" y="110" width="54" height="20"/><use href="#st"/></symbol>
<symbol id="fi3" viewBox="0 0 60 128"><rect class="b" width="60" height="128"/><text class="tt" x="30" y="12.5">Фильтрация</text><text class="s" x="3" y="19">Тип тренировки</text><rect class="bx" x="3" y="23" width="25" height="6" rx="1.6"/><rect class="c" x="31" y="23" width="25" height="6" rx="1.6"/><rect class="bx" x="3" y="31" width="25" height="6" rx="1.6"/><rect class="bx" x="31" y="31" width="25" height="6" rx="1.6"/><rect class="c" x="3" y="39" width="25" height="6" rx="1.6"/><rect class="bx" x="31" y="39" width="25" height="6" rx="1.6"/><rect class="c" x="3" y="47" width="25" height="6" rx="1.6"/><rect class="bx" x="31" y="47" width="25" height="6" rx="1.6"/><rect class="c" x="3" y="55" width="17" height="6" rx="1.6"/><text class="s" x="3" y="67">Сортировка</text><circle class="a" cx="4" cy="71" r=".9"/><path class="p" d="M6 71h9M19 71h14M6 75h14"/><rect class="g" x="2.5" y="113" width="26" height="9" rx="1.8"/><rect class="a" x="30.5" y="113" width="26.5" height="9" rx="1.8"/><use href="#st"/></symbol>
<symbol id="evd" viewBox="0 0 60 128"><rect class="b" width="60" height="128"/><rect width="60" height="62" fill="#0f0f0f"/><use href="#ph6" x="0" y="0" width="60" height="50"/><rect y="25" width="60" height="25" fill="url(#gfade)"/><text class="w" font-size="3.5" text-anchor="middle" x="30" y="39" font-style="italic">Левой, левой,</text><text class="w" font-size="3.5" text-anchor="middle" x="30" y="44" font-style="italic">правой!</text><rect x="23" y="46" width="14" height="3" fill="#d3fe52"/><use href="#tiles"/><use href="#stw"/><use href="#para"/><text class="s" x="3" y="90">Программа</text><rect class="c" x="3" y="92" width="54" height="19" rx="1.4"/><path class="p" d="M6 96h32M6 101h30M6 106h24"/><use href="#btn"/></symbol>
<symbol id="evd2" viewBox="0 0 60 128"><use href="#evd" width="60" height="128"/><rect class="dim" width="60" height="128"/><rect class="b" y="84" width="60" height="44" rx="2"/><text class="h" x="30" y="93" style="font-size:2.9px">Вы записались</text><text class="h" x="30" y="97" style="font-size:2.9px">на событие!</text><path class="p" d="M8 102h44M12 105h36"/><use href="#btn"/><use href="#st"/></symbol>
<symbol id="cal1" viewBox="0 0 60 128"><rect class="b" width="60" height="128"/><use href="#cal"/><rect class="c" x="3" y="64" width="54" height="10" rx="1.4"/><rect x="4" y="65" width="8" height="8" fill="#3a4a55"/><path class="p" d="M14 67h24M14 71h20"/><text class="s" x="50" y="71" style="font-size:3.6px">15</text><rect class="a" x="8" y="77" width="44" height="9" rx="1.8"/><path d="M20 81.5h20" stroke="#222" stroke-width=".8"/><text class="s" x="3" y="92">Прогресс</text><use href="#bars" y="9"/><use href="#st"/></symbol>

<!-- ROW 5 -->
<symbol id="cal2" viewBox="0 0 60 128"><rect class="b" width="60" height="128"/><use href="#cal" transform="translate(0 -2)"/><path class="p" d="M14 64h32"/><rect class="a" x="4" y="67" width="52" height="9" rx="1.8"/><path d="M20 71.5h20" stroke="#222" stroke-width=".8"/><text class="s" x="3" y="85">Тренировки</text><use href="#bars" y="2"/><use href="#tab"/><rect class="a" x="35" y="117" width="3.4" height="3.4" rx=".6"/><use href="#st"/></symbol>
<symbol id="res2" viewBox="0 0 60 128"><rect class="b" width="60" height="128"/><use href="#srch"/><circle class="a" cx="12" cy="22" r="2.4"/><path class="p" d="M17 22h6M26 22h4M34 22h6M44 22h6"/><use href="#ph7" x="3" y="27" width="54" height="24"/><path class="p" d="M3 54h24"/><circle class="a" cx="54" cy="54" r="1.7"/><use href="#ph8" x="3" y="59" width="54" height="23"/><path class="p" d="M3 85h24"/><circle class="a" cx="54" cy="85" r="1.7"/><use href="#ph3" x="3" y="91" width="54" height="23"/><path class="p" d="M3 117h24"/><circle class="a" cx="54" cy="118" r="1.7"/><use href="#ph8" x="3" y="122" width="54" height="20"/><use href="#st"/></symbol>
<symbol id="tn4" viewBox="0 0 60 128"><rect class="b" width="60" height="128"/><rect width="60" height="60" fill="#0f0f0f"/><use href="#ph7" x="0" y="0" width="60" height="48"/><rect y="24" width="60" height="24" fill="url(#gfade)"/><text class="w" font-size="3.6" x="3" y="37">Железная воля</text><text class="w" font-size="3.6" x="3" y="42">к победе</text><g transform="translate(0 -3)"><use href="#tiles"/></g><use href="#stw"/><use href="#para" transform="translate(0 -2)"/><use href="#rows" transform="translate(0 -3)"/><use href="#btn"/></symbol>
<symbol id="tn5" viewBox="0 0 60 128"><use href="#tn4" width="60" height="128"/><rect class="dim" width="60" height="128"/><rect class="b" y="86" width="60" height="42" rx="2"/><text class="h" x="30" y="96" style="font-size:2.7px">Вы добавили тренировку!</text><path class="p" d="M8 101h44M14 104h32"/><use href="#btn"/><use href="#st"/></symbol>
<symbol id="tn6" viewBox="0 0 60 128"><use href="#tn4" width="60" height="128"/><rect class="dim" width="60" height="128"/><rect class="b" y="60" width="60" height="68" rx="2"/><text class="h" x="30" y="69" style="font-size:2.7px">Выберите время</text><rect class="c" x="12" y="75" width="36" height="32" rx="3"/><text class="dg" x="30" y="94" style="font-size:3px">8 00 PM</text><use href="#btn"/><use href="#st"/></symbol>

<!-- ROW 6 -->
<symbol id="prof" viewBox="0 0 60 128"><rect class="b" width="60" height="128"/><circle cx="7" cy="19" r="5" fill="#6a4a2a"/><path class="pf" d="M15 17h18"/><path class="p" d="M15 20.5h11"/><g class="c"><rect x="3" y="27" width="54" height="7.6" rx="1.4"/><rect x="3" y="36" width="54" height="7.6" rx="1.4"/><rect x="3" y="45" width="54" height="7.6" rx="1.4"/><rect x="3" y="54" width="54" height="7.6" rx="1.4"/><rect x="3" y="63" width="54" height="7.6" rx="1.4"/><rect x="3" y="72" width="54" height="7.6" rx="1.4"/></g><g class="a"><rect x="6" y="30" width="2" height="2"/><rect x="6" y="39" width="2" height="2"/><rect x="6" y="48" width="2" height="2"/><rect x="6" y="57" width="2" height="2"/><rect x="6" y="66" width="2" height="2"/><rect x="6" y="75" width="2" height="2"/></g><path class="p" d="M10 31h10M10 40h9M10 49h8M10 58h16M10 67h20M10 76h12"/><circle cx="50" cy="76" r="2.2" fill="#fff"/><path d="M6 85h15" stroke="#e5484d" stroke-width=".7"/><use href="#tab"/><rect class="a" x="48" y="117" width="3.4" height="3.4" rx=".6"/><use href="#st"/></symbol>
<symbol id="edit" viewBox="0 0 60 128"><rect class="b" width="60" height="128"/><use href="#bk"/><text class="tt" x="30" y="12">Профиль</text><text class="s" x="3" y="18">Общая информация</text><g class="c"><rect x="3" y="20" width="54" height="8.4" rx="1.4"/><rect x="3" y="29.5" width="54" height="8.4" rx="1.4"/><rect x="3" y="39" width="54" height="8.4" rx="1.4"/><rect x="3" y="49" width="54" height="8.4" rx="1.4"/><rect x="3" y="59" width="26" height="8.4" rx="1.4"/><rect x="31" y="59" width="26" height="8.4" rx="1.4"/></g><path class="p" d="M6 23h5M6 26h10M6 32.5h5M6 35.5h10M6 42h5M6 45h14M6 52h5M6 55h14M6 62h5M6 65h6M34 62h9M34 65h10"/><text class="s" x="3" y="73.5">Пол</text><circle class="a" cx="4" cy="78" r=".9"/><path class="p" d="M6 78h8M17 78h8"/><text class="s" x="3" y="85">Спортивный уровень</text><circle class="a" cx="4" cy="89.5" r=".9"/><path class="p" d="M6 89.5h11M22 89.5h7M36 89.5h11"/><rect class="a" x="2.5" y="113" width="55" height="9" rx="1.8"/><use href="#st"/></symbol>
<symbol id="pw0" viewBox="0 0 60 128"><rect class="b" width="60" height="128"/><use href="#fieldh"/><use href="#pwf"/><use href="#btnd"/><use href="#st"/></symbol>
<symbol id="pw1" viewBox="0 0 60 128"><rect class="b" width="60" height="128"/><use href="#fieldh"/><use href="#pwf"/><rect class="g" x="2.5" y="70" width="55" height="9" rx="2"/><use href="#kb"/><use href="#st"/></symbol>
<symbol id="pw3" viewBox="0 0 60 128"><rect class="b" width="60" height="128"/><use href="#fieldh"/><use href="#pwf"/><path class="pf" d="M6 23h14M6 33h14M6 43h14"/><use href="#btn"/><use href="#st"/></symbol>
<symbol id="pwc" viewBox="0 0 60 128"><use href="#c2" width="60" height="128"/></symbol>
<symbol id="pwd" viewBox="0 0 60 128"><use href="#c2" width="60" height="128"/><rect class="dim" width="60" height="128"/><circle cx="30" cy="65" r="1.8" fill="none" stroke="#ccc" stroke-width=".5"/></symbol>
<symbol id="pwm" viewBox="0 0 60 128"><use href="#pw3" width="60" height="128"/><rect class="dim" width="60" height="128"/><rect class="b" y="90" width="60" height="38" rx="2"/><text class="h" x="30" y="100" style="font-size:2.7px">Пароль успешно изменен!</text><path class="p" d="M8 104h44M18 107h24"/><use href="#btn"/><use href="#st"/></symbol>

<!-- ROW 7 -->
<symbol id="ps1" viewBox="0 0 60 128"><rect class="b" width="60" height="128"/><use href="#bk"/><text class="tt" x="30" y="12.5">Подписка</text><rect class="bx" x="3" y="16" width="54" height="26" rx="2"/><text class="s" x="6" y="28" style="font-size:3.5px">4 000 р.</text><path class="p" d="M6 20h10M6 38h30M6 47h20M42 47h12M6 51h20M42 51h12"/><text class="s" x="3" y="60">Описание подписки</text><use href="#bul" transform="translate(0 -7)"/><rect class="c" x="3" y="86" width="54" height="7" rx="1.4"/><rect class="c" x="3" y="95" width="54" height="7" rx="1.4"/><path d="M6 89.5h14" stroke="var(--acc)" stroke-width=".7"/><path d="M6 98.5h14" stroke="#e5484d" stroke-width=".7"/><use href="#st"/></symbol>
<symbol id="ps2" viewBox="0 0 60 128"><rect class="b" width="60" height="128"/><use href="#bk"/><text class="tt" x="30" y="12.5">Смена подписки</text><path class="pf" d="M4 17h34"/><use href="#cardd" transform="translate(0 4)"/><rect class="c" x="3" y="74" width="54" height="9" rx="1.4"/><path class="p" d="M6 78h30M4 87h40M4 90h36"/><use href="#btnd"/><use href="#st"/></symbol>
<symbol id="ps3" viewBox="0 0 60 128"><use href="#ps1" width="60" height="128"/><rect class="dim" width="60" height="128"/><rect class="b" y="76" width="60" height="52" rx="2"/><text class="h" x="30" y="84" style="font-size:2.7px">Вы действительно хотите</text><text class="h" x="30" y="88" style="font-size:2.7px">отменить подписку?</text><path class="p" d="M6 94h48M6 97h48M6 100h40M14 103h32"/><rect class="g" x="2.5" y="113" width="26" height="9" rx="1.8"/><rect class="a" x="30.5" y="113" width="27" height="9" rx="1.8"/><use href="#st"/></symbol>
<symbol id="ps4" viewBox="0 0 60 128"><rect class="b" width="60" height="128"/><use href="#bk"/><text class="tt" x="30" y="12.5">Выберите тип подписки</text><use href="#cardd"/><use href="#bul"/><use href="#btnd"/><use href="#st"/></symbol>
<symbol id="ps6" viewBox="0 0 60 128"><rect class="b" width="60" height="128"/><use href="#ps1" width="60" height="128"/><rect fill="#e5484d" fill-opacity=".15" x="3" y="86" width="54" height="18" rx="1.4"/><use href="#btn"/></symbol>
<symbol id="cd0" viewBox="0 0 60 128"><rect class="b" width="60" height="128"/><use href="#bk"/><text class="tt" x="30" y="12.5">Способ оплаты</text><rect class="c" x="3" y="17" width="54" height="8.6" rx="1.4"/><rect class="c" x="3" y="27.5" width="54" height="8.6" rx="1.4"/><rect x="5" y="20" width="2.4" height="2.2" fill="#d9402c"/><rect x="5" y="30.6" width="2.4" height="2.2" fill="#2f5fd0"/><path class="p" d="M9 21h9M9 32h9"/><circle class="m" cx="54" cy="21" r=".9"/><circle class="m" cx="54" cy="32" r=".9"/><use href="#btn"/><use href="#st"/></symbol>
<symbol id="cd1" viewBox="0 0 60 128"><rect class="b" width="60" height="128"/><use href="#bk"/><text class="tt" x="30" y="12.5">Добавление карты</text><rect class="c" x="3" y="17" width="54" height="9" rx="1.4"/><rect class="c" x="3" y="28" width="26" height="9" rx="1.4"/><rect class="c" x="31" y="28" width="26" height="9" rx="1.4"/><path class="p" d="M6 21.5h14M6 32.5h14M34 32.5h6"/><use href="#btnd"/><use href="#st"/></symbol>
<symbol id="cd2" viewBox="0 0 60 128"><use href="#cd1" width="60" height="128"/><rect class="b" y="108" width="60" height="20"/><rect class="g" x="2.5" y="71" width="55" height="9" rx="2"/><use href="#np"/><use href="#st"/></symbol>
<symbol id="cd3" viewBox="0 0 60 128"><use href="#cd1" width="60" height="128"/><path class="pf" d="M6 24h24M6 35h10M34 35h5"/><use href="#btn"/></symbol>
<symbol id="cd4" viewBox="0 0 60 128"><use href="#cd0" width="60" height="128"/><rect class="c" x="3" y="38" width="54" height="8.6" rx="1.4"/><rect x="5" y="41" width="2.4" height="2.2" fill="#2f5fd0"/><path class="p" d="M9 42h9"/></symbol>

<!-- ROW 8 -->
<symbol id="fav" viewBox="0 0 60 128"><rect class="b" width="60" height="128"/><use href="#bk"/><text class="tt" x="30" y="12.5">Избранное</text><text class="s" x="3" y="20.5">Готовые</text><use href="#fav1" transform="translate(0 7)"/><use href="#fav1" transform="translate(0 21)"/><use href="#fav1" transform="translate(0 35)"/><text class="s" x="3" y="65">Тренера</text><use href="#fav1" transform="translate(0 54)"/><text class="s" x="3" y="86">События</text><use href="#fav1" transform="translate(0 75)"/><use href="#fav1" transform="translate(0 89)"/><use href="#fav1" transform="translate(0 103)"/><use href="#st"/></symbol>
<symbol id="s1b" viewBox="0 0 60 128"><use href="#s2" width="60" height="128"/></symbol>
<symbol id="favr" viewBox="0 0 60 128"><rect class="b" width="60" height="128"/><use href="#srch"/><text class="s" x="3" y="23">Результаты</text><use href="#fav1" transform="translate(0 12)"/><use href="#fav1" transform="translate(0 26)"/><use href="#fav1" transform="translate(0 41)"/><use href="#fav1" transform="translate(0 56)"/><use href="#st"/></symbol>
<symbol id="fave" viewBox="0 0 60 128"><rect class="b" width="60" height="128"/><use href="#bk"/><text class="tt" x="30" y="12.5">Избранное</text><path d="M30 62l-7-10q-2-5 2-8t5 1q1-4 5-1t2 8z" fill="none" stroke="var(--acc)" stroke-width=".9"/><text class="tt" x="30" y="67">В избранном пока</text><text class="tt" x="30" y="71">ничего нет</text><rect class="a" x="2.5" y="113" width="55" height="9" rx="1.8"/><use href="#st"/></symbol>

<!-- ROW 9 -->
<symbol id="faq" viewBox="0 0 60 128"><rect class="b" width="60" height="128"/><use href="#faqh"/><g class="c"><rect x="3" y="17" width="54" height="14" rx="1.4"/><rect x="3" y="33" width="54" height="12" rx="1.4"/><rect x="3" y="47" width="54" height="13" rx="1.4"/><rect x="3" y="62" width="54" height="11" rx="1.4"/><rect x="3" y="75" width="54" height="12" rx="1.4"/></g><path class="pf" d="M6 21h40M6 23.5h42M6 26h30M6 37h40M6 40h30M6 51h40M6 54h42M6 66h40M6 69h30M6 79h40M6 82h30"/><rect class="a" x="2.5" y="113" width="55" height="9" rx="1.8"/><use href="#st"/></symbol>
<symbol id="faq2" viewBox="0 0 60 128"><rect class="b" width="60" height="128"/><use href="#faqh"/><g class="c"><rect x="3" y="17" width="54" height="14" rx="1.4"/><rect x="3" y="33" width="54" height="28" rx="1.4"/><rect x="3" y="63" width="54" height="12" rx="1.4"/><rect x="3" y="77" width="54" height="11" rx="1.4"/><rect x="3" y="90" width="54" height="12" rx="1.4"/></g><path class="pf" d="M6 21h40M6 23.5h42M6 26h30M6 37h40M6 40h30M6 67h40M6 70h30M6 81h40M6 84h30M6 94h40M6 97h30"/><path class="p" d="M6 44h46M6 47h46M6 50h46M6 53h46M6 56h30"/><rect class="a" x="2.5" y="113" width="55" height="9" rx="1.8"/><use href="#st"/></symbol>
<symbol id="ch0" viewBox="0 0 60 128"><rect class="b" width="60" height="128"/><use href="#faqh"/><use href="#cbub"/><use href="#cin"/><use href="#st"/></symbol>
<symbol id="ch1" viewBox="0 0 60 128"><rect class="b" width="60" height="128"/><use href="#faqh"/><use href="#cbub"/><rect class="c" x="3" y="71" width="47" height="9" rx="1.6"/><rect class="a" x="51" y="71" width="6" height="9" rx="1.6"/><path class="p" d="M5 74h40M5 77h34"/><use href="#kb"/><use href="#st"/></symbol>
<symbol id="ch2" viewBox="0 0 60 128"><rect class="b" width="60" height="128"/><use href="#faqh"/><use href="#cbub"/><use href="#lbub"/><use href="#cin"/><use href="#st"/></symbol>
<symbol id="ch3" viewBox="0 0 60 128"><use href="#ch2" width="60" height="128"/><rect class="c" x="4" y="52" width="34" height="6" rx="1.2"/></symbol>
<symbol id="ch4" viewBox="0 0 60 128"><use href="#ch2" width="60" height="128"/><rect class="c" x="4" y="52" width="34" height="12" rx="1.4"/><path class="p" d="M6 55h28M6 57.5h28M6 60h18"/></symbol>
<symbol id="not" viewBox="0 0 60 128"><rect class="b" width="60" height="128"/><use href="#bk"/><text class="tt" x="30" y="12.5">Настройки уведомлений</text><g class="c"><rect x="3" y="18" width="54" height="7.6" rx="1.4"/><rect x="3" y="27" width="54" height="7.6" rx="1.4"/><rect x="3" y="36" width="54" height="7.6" rx="1.4"/></g><path class="p" d="M6 22h20M6 31h20M6 40h18"/><circle class="a" cx="51" cy="22" r="2.2"/><circle cx="51" cy="31" r="2.2" fill="#fff" stroke="#aaa" stroke-width=".3"/><circle cx="51" cy="40" r="2.2" fill="#fff" stroke="#aaa" stroke-width=".3"/><use href="#st"/></symbol>

<!-- PAGE -->
<rect width="2800" height="2227" fill="#191919"/>
<path d="M58 2227V235a42 42 0 0 1 42-42H2698a42 42 0 0 1 42 42V2227z" fill="#242424"/>
<text x="117" y="298" font-size="35" fill="#cff75a" stroke="#cff75a" stroke-width=".4" textLength="338" lengthAdjust="spacingAndGlyphs">11. All interface screens</text>

<!-- connectors -->
<g stroke="#767676" stroke-width="1.8">
<path d="M1448 458H2146"/><path d="M1189 655H2146"/><path d="M1970 852H2146"/><path d="M1397 1049H2146"/><path d="M799 1246H2146"/><path d="M1449 1443H2146"/><path d="M1916 1640H2146"/><path d="M929 1836H2146"/><path d="M1200 2033H2146"/>
</g>
<g fill="#d3fe52">
<ellipse cx="1448" cy="458" rx="4.8" ry="5"/><ellipse cx="2146" cy="458" rx="4.8" ry="5"/>
<ellipse cx="1189" cy="655" rx="4.8" ry="5"/><ellipse cx="2146" cy="655" rx="4.8" ry="5"/>
<ellipse cx="1970" cy="852" rx="4.8" ry="5"/><ellipse cx="2146" cy="852" rx="4.8" ry="5"/>
<ellipse cx="1397" cy="1049" rx="4.8" ry="5"/><ellipse cx="2146" cy="1049" rx="4.8" ry="5"/>
<ellipse cx="799" cy="1246" rx="4.8" ry="5"/><ellipse cx="2146" cy="1246" rx="4.8" ry="5"/>
<ellipse cx="1449" cy="1443" rx="4.8" ry="5"/><ellipse cx="2146" cy="1443" rx="4.8" ry="5"/>
<ellipse cx="1916" cy="1640" rx="4.8" ry="5"/><ellipse cx="2146" cy="1640" rx="4.8" ry="5"/>
<ellipse cx="929" cy="1836" rx="4.8" ry="5"/><ellipse cx="2146" cy="1836" rx="4.8" ry="5"/>
<ellipse cx="1200" cy="2033" rx="4.8" ry="5"/><ellipse cx="2146" cy="2033" rx="4.8" ry="5"/>
</g>

<!-- labels -->
<g fill="#d3fe52">
<rect x="2160" y="425.5" width="446" height="65" rx="14"/>
<rect x="2160" y="622.5" width="298" height="65" rx="14"/>
<rect x="2160" y="819.5" width="386" height="65" rx="14"/>
<rect x="2160" y="1016.5" width="147" height="65" rx="14"/>
<rect x="2321" y="1016.5" width="131" height="65" rx="14"/>
<rect x="2160" y="1213.5" width="160" height="65" rx="14"/>
<rect x="2160" y="1410.5" width="169" height="65" rx="14"/>
<rect x="2160" y="1607.5" width="443" height="65" rx="14"/>
<rect x="2160" y="1804" width="247" height="65" rx="14"/>
<rect x="2160" y="2000.5" width="358" height="65" rx="14"/>
</g>
<g font-size="35" fill="#0b0b0b" stroke="#0b0b0b" stroke-width=".4">
<text x="2175" y="470" textLength="416" lengthAdjust="spacingAndGlyphs">Onboarding, Sign Up, Sign In</text>
<text x="2175" y="667" textLength="267" lengthAdjust="spacingAndGlyphs">Search for training</text>
<text x="2175" y="864" textLength="355" lengthAdjust="spacingAndGlyphs">Watch the training video</text>
<text x="2175" y="1061" textLength="116" lengthAdjust="spacingAndGlyphs">Trainers</text>
<text x="2336" y="1061" textLength="100" lengthAdjust="spacingAndGlyphs">Events</text>
<text x="2175" y="1258" textLength="130" lengthAdjust="spacingAndGlyphs">Progress</text>
<text x="2175" y="1455" textLength="138" lengthAdjust="spacingAndGlyphs">User: Info</text>
<text x="2175" y="1652" textLength="413" lengthAdjust="spacingAndGlyphs">User: Subscription, Payment</text>
<text x="2175" y="1849" textLength="216" lengthAdjust="spacingAndGlyphs">User: Favorites</text>
<text x="2175" y="2045" textLength="328" lengthAdjust="spacingAndGlyphs">User: FAQ, Notification</text>
</g>

<!-- Row 1 -->
<g class="d">
<use href="#splash" x="116.4" y="389" width="59.5" height="128"/><use href="#start" x="181.5" y="389" width="59.5" height="128"/><use href="#w0" x="246.6" y="389" width="59.5" height="128"/><use href="#w1" x="311.7" y="389" width="59.5" height="128"/><use href="#w2" x="376.8" y="389" width="59.5" height="128"/><use href="#c0" x="441.9" y="389" width="59.5" height="128"/><use href="#c1" x="507" y="389" width="59.5" height="128"/><use href="#c2" x="572.1" y="389" width="59.5" height="128"/><use href="#c3" x="637.2" y="389" width="59.5" height="128"/><use href="#c4" x="702.3" y="389" width="59.5" height="128"/>
</g>
<g class="l">
<use href="#splash" x="790" y="389" width="59.5" height="128"/><use href="#start" x="855.1" y="389" width="59.5" height="128"/><use href="#w0" x="920.2" y="389" width="59.5" height="128"/><use href="#w1" x="985.3" y="389" width="59.5" height="128"/><use href="#w2" x="1050.4" y="389" width="59.5" height="128"/><use href="#c0" x="1115.5" y="389" width="59.5" height="128"/><use href="#c1" x="1180.6" y="389" width="59.5" height="128"/><use href="#c2" x="1245.7" y="389" width="59.5" height="128"/><use href="#c3" x="1310.8" y="389" width="59.5" height="128"/><use href="#c4" x="1375.9" y="389" width="59.5" height="128"/>
</g>
<!-- Row 2 -->
<g class="d">
<use href="#home" x="116.4" y="587.4" width="59.5" height="128"/><use href="#home2" x="181.5" y="587.4" width="59.5" height="128"/><use href="#prog" x="246.6" y="587.4" width="59.5" height="128"/><use href="#s0" x="311.7" y="587.4" width="59.5" height="128"/><use href="#s1" x="376.8" y="587.4" width="59.5" height="128"/><use href="#s2" x="441.9" y="587.4" width="59.5" height="128"/><use href="#filt" x="507" y="587.4" width="59.5" height="128"/><use href="#res" x="572.1" y="587.4" width="59.5" height="128"/>
</g>
<g class="l">
<use href="#home" x="660" y="587.4" width="59.5" height="128"/><use href="#home2" x="725.1" y="587.4" width="59.5" height="128"/><use href="#prog" x="790.2" y="587.4" width="59.5" height="128"/><use href="#s0" x="855.3" y="587.4" width="59.5" height="128"/><use href="#s1" x="920.4" y="587.4" width="59.5" height="128"/><use href="#s2" x="985.5" y="587.4" width="59.5" height="128"/><use href="#filt" x="1050.6" y="587.4" width="59.5" height="128"/><use href="#res" x="1115.7" y="587.4" width="59.5" height="128"/>
</g>
<!-- Row 3 -->
<g class="d">
<use href="#train" x="116.4" y="785.8" width="59.5" height="128"/><use href="#rev" x="181.5" y="785.8" width="59.5" height="128"/><use href="#train2" x="246.6" y="785.8" width="59.5" height="128"/><use href="#sub0" x="311.7" y="785.8" width="59.5" height="128"/><use href="#sub1" x="376.8" y="785.8" width="59.5" height="128"/><use href="#pay" x="441.9" y="785.8" width="59.5" height="128"/><use href="#new0" x="507" y="785.8" width="59.5" height="128"/><use href="#newn" x="572.1" y="785.8" width="59.5" height="128"/><use href="#newf" x="637.2" y="785.8" width="59.5" height="128"/><use href="#newd" x="702.3" y="785.8" width="59.5" height="128"/><use href="#succ" x="767.4" y="785.8" width="59.5" height="128"/><use href="#train3" x="832.5" y="785.8" width="59.5" height="128"/><use href="#vid1" x="897.6" y="785.8" width="59.5" height="128"/><use href="#vid2" x="962.7" y="785.8" width="59.5" height="128"/>
</g>
<g class="l">
<use href="#train" x="1051" y="785.8" width="59.5" height="128"/><use href="#rev" x="1116.1" y="785.8" width="59.5" height="128"/><use href="#train2" x="1181.2" y="785.8" width="59.5" height="128"/><use href="#sub0" x="1246.3" y="785.8" width="59.5" height="128"/><use href="#sub1" x="1311.4" y="785.8" width="59.5" height="128"/><use href="#pay" x="1376.5" y="785.8" width="59.5" height="128"/><use href="#new0" x="1441.6" y="785.8" width="59.5" height="128"/><use href="#newn" x="1506.7" y="785.8" width="59.5" height="128"/><use href="#newf" x="1571.8" y="785.8" width="59.5" height="128"/><use href="#newd" x="1636.9" y="785.8" width="59.5" height="128"/><use href="#succ" x="1702" y="785.8" width="59.5" height="128"/><use href="#train3" x="1767.1" y="785.8" width="59.5" height="128"/><use href="#vid1" x="1832.2" y="785.8" width="59.5" height="128"/><use href="#vid2" x="1897.3" y="785.8" width="59.5" height="128"/>
</g>
<!-- Row 4 -->
<g class="d">
<use href="#tr" x="116.4" y="984.2" width="59.5" height="128"/><use href="#fi2" x="181.5" y="984.2" width="59.5" height="128"/><use href="#wom" x="246.6" y="984.2" width="59.5" height="128"/><use href="#wom2" x="311.7" y="984.2" width="59.5" height="128"/>
<use href="#ev" x="715.2" y="984.2" width="59.5" height="128"/><use href="#fi3" x="780.3" y="984.2" width="59.5" height="128"/><use href="#evd" x="845.4" y="984.2" width="59.5" height="128"/><use href="#evd2" x="910.5" y="984.2" width="59.5" height="128"/><use href="#cal1" x="975.6" y="984.2" width="59.5" height="128"/>
</g>
<g class="l">
<use href="#tr" x="401" y="984.2" width="59.5" height="128"/><use href="#fi2" x="466.1" y="984.2" width="59.5" height="128"/><use href="#wom" x="531.2" y="984.2" width="59.5" height="128"/><use href="#wom2" x="596.3" y="984.2" width="59.5" height="128"/>
<use href="#ev" x="1063" y="984.2" width="59.5" height="128"/><use href="#fi3" x="1128.1" y="984.2" width="59.5" height="128"/><use href="#evd" x="1193.2" y="984.2" width="59.5" height="128"/><use href="#evd2" x="1258.3" y="984.2" width="59.5" height="128"/><use href="#cal1" x="1323.4" y="984.2" width="59.5" height="128"/>
</g>
<!-- Row 5 -->
<g class="d">
<use href="#cal2" x="116.4" y="1182.6" width="59.5" height="128"/><use href="#res2" x="181.5" y="1182.6" width="59.5" height="128"/><use href="#tn4" x="246.6" y="1182.6" width="59.5" height="128"/><use href="#tn5" x="311.7" y="1182.6" width="59.5" height="128"/><use href="#tn6" x="376.8" y="1182.6" width="59.5" height="128"/>
</g>
<g class="l">
<use href="#cal2" x="466" y="1182.6" width="59.5" height="128"/><use href="#res2" x="531.1" y="1182.6" width="59.5" height="128"/><use href="#tn4" x="596.2" y="1182.6" width="59.5" height="128"/><use href="#tn5" x="661.3" y="1182.6" width="59.5" height="128"/><use href="#tn6" x="726.4" y="1182.6" width="59.5" height="128"/>
</g>
<!-- Row 6 -->
<g class="d">
<use href="#prof" x="116.4" y="1381" width="59.5" height="128"/><use href="#edit" x="181.5" y="1381" width="59.5" height="128"/><use href="#pw0" x="246.6" y="1381" width="59.5" height="128"/><use href="#pw1" x="311.7" y="1381" width="59.5" height="128"/><use href="#pw1" x="376.8" y="1381" width="59.5" height="128"/><use href="#pw3" x="441.9" y="1381" width="59.5" height="128"/><use href="#pw3" x="507" y="1381" width="59.5" height="128"/><use href="#pwc" x="572.1" y="1381" width="59.5" height="128"/><use href="#pwd" x="637.2" y="1381" width="59.5" height="128"/><use href="#pwm" x="702.3" y="1381" width="59.5" height="128"/>
</g>
<g class="l">
<use href="#prof" x="791" y="1381" width="59.5" height="128"/><use href="#edit" x="856.1" y="1381" width="59.5" height="128"/><use href="#pw0" x="921.2" y="1381" width="59.5" height="128"/><use href="#pw1" x="986.3" y="1381" width="59.5" height="128"/><use href="#pw1" x="1051.4" y="1381" width="59.5" height="128"/><use href="#pw3" x="1116.5" y="1381" width="59.5" height="128"/><use href="#pw3" x="1181.6" y="1381" width="59.5" height="128"/><use href="#pwc" x="1246.7" y="1381" width="59.5" height="128"/><use href="#pwd" x="1311.8" y="1381" width="59.5" height="128"/><use href="#pwm" x="1376.9" y="1381" width="59.5" height="128"/>
</g>
<!-- Row 7 -->
<g class="d">
<use href="#ps1" x="116.4" y="1579.4" width="59.5" height="128"/><use href="#ps2" x="181.5" y="1579.4" width="59.5" height="128"/><use href="#ps3" x="246.6" y="1579.4" width="59.5" height="128"/><use href="#ps4" x="311.7" y="1579.4" width="59.5" height="128"/><use href="#sub1" x="376.8" y="1579.4" width="59.5" height="128"/><use href="#pay" x="441.9" y="1579.4" width="59.5" height="128"/><use href="#succ" x="507" y="1579.4" width="59.5" height="128"/><use href="#ps6" x="572.1" y="1579.4" width="59.5" height="128"/>
<use href="#cd0" x="1237" y="1579.4" width="59.5" height="128"/><use href="#cd1" x="1302.1" y="1579.4" width="59.5" height="128"/><use href="#cd2" x="1367.2" y="1579.4" width="59.5" height="128"/><use href="#cd3" x="1432.3" y="1579.4" width="59.5" height="128"/><use href="#cd4" x="1497.4" y="1579.4" width="59.5" height="128"/>
</g>
<g class="l">
<use href="#ps1" x="660" y="1579.4" width="59.5" height="128"/><use href="#ps2" x="725.1" y="1579.4" width="59.5" height="128"/><use href="#ps3" x="790.2" y="1579.4" width="59.5" height="128"/><use href="#ps4" x="855.3" y="1579.4" width="59.5" height="128"/><use href="#sub1" x="920.4" y="1579.4" width="59.5" height="128"/><use href="#pay" x="985.5" y="1579.4" width="59.5" height="128"/><use href="#succ" x="1050.6" y="1579.4" width="59.5" height="128"/><use href="#ps6" x="1115.7" y="1579.4" width="59.5" height="128"/>
<use href="#cd0" x="1583" y="1579.4" width="59.5" height="128"/><use href="#cd1" x="1648.1" y="1579.4" width="59.5" height="128"/><use href="#cd2" x="1713.2" y="1579.4" width="59.5" height="128"/><use href="#cd3" x="1778.3" y="1579.4" width="59.5" height="128"/><use href="#cd4" x="1843.4" y="1579.4" width="59.5" height="128"/>
</g>
<!-- Row 8 -->
<g class="d">
<use href="#fav" x="116.4" y="1777.8" width="59.5" height="128"/><use href="#s0" x="181.5" y="1777.8" width="59.5" height="128"/><use href="#s1" x="246.6" y="1777.8" width="59.5" height="128"/><use href="#s1b" x="311.7" y="1777.8" width="59.5" height="128"/><use href="#favr" x="376.8" y="1777.8" width="59.5" height="128"/><use href="#fave" x="441.9" y="1777.8" width="59.5" height="128"/>
</g>
<g class="l">
<use href="#fav" x="530" y="1777.8" width="59.5" height="128"/><use href="#s0" x="595.1" y="1777.8" width="59.5" height="128"/><use href="#s1" x="660.2" y="1777.8" width="59.5" height="128"/><use href="#s1b" x="725.3" y="1777.8" width="59.5" height="128"/><use href="#favr" x="790.4" y="1777.8" width="59.5" height="128"/><use href="#fave" x="855.5" y="1777.8" width="59.5" height="128"/>
</g>
<!-- Row 9 -->
<g class="d">
<use href="#faq" x="116.4" y="1976.2" width="59.5" height="128"/><use href="#faq2" x="181.5" y="1976.2" width="59.5" height="128"/><use href="#ch0" x="246.6" y="1976.2" width="59.5" height="128"/><use href="#ch1" x="311.7" y="1976.2" width="59.5" height="128"/><use href="#ch2" x="376.8" y="1976.2" width="59.5" height="128"/><use href="#ch3" x="441.9" y="1976.2" width="59.5" height="128"/><use href="#ch4" x="507" y="1976.2" width="59.5" height="128"/><use href="#not" x="572.1" y="1976.2" width="59.5" height="128"/>
</g>
<g class="l">
<use href="#faq" x="671" y="1976.2" width="59.5" height="128"/><use href="#faq2" x="736.1" y="1976.2" width="59.5" height="128"/><use href="#ch0" x="801.2" y="1976.2" width="59.5" height="128"/><use href="#ch1" x="866.3" y="1976.2" width="59.5" height="128"/><use href="#ch2" x="931.4" y="1976.2" width="59.5" height="128"/><use href="#ch3" x="996.5" y="1976.2" width="59.5" height="128"/><use href="#ch4" x="1061.6" y="1976.2" width="59.5" height="128"/><use href="#not" x="1126.7" y="1976.2" width="59.5" height="128"/>
</g>
</svg>
</body></html>
